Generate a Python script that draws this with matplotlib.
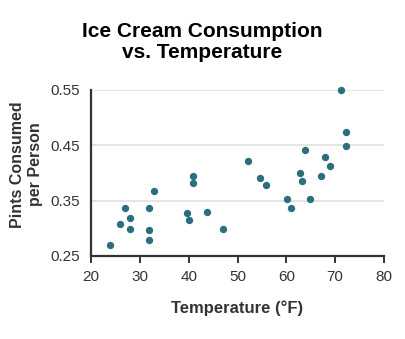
import matplotlib
matplotlib.use("Agg")
import matplotlib.pyplot as plt

# Temperature (F) and pints consumed per person
temperature = [
    23.8, 26.0, 26.9, 27.9, 27.9, 31.9, 31.9, 31.9, 32.9, 39.7,
    40.0, 40.9, 40.9, 43.8, 47.0, 52.1, 54.6, 55.9, 60.1, 61.0,
    62.9, 63.3, 63.9, 64.8, 67.1, 68.0, 68.9, 71.3, 72.2, 72.2,
]
pints = [
    0.270, 0.307, 0.336, 0.319, 0.298, 0.337, 0.296, 0.279, 0.368, 0.327,
    0.315, 0.394, 0.381, 0.329, 0.298, 0.421, 0.390, 0.379, 0.352, 0.336,
    0.399, 0.386, 0.441, 0.352, 0.394, 0.429, 0.412, 0.549, 0.474, 0.448,
]

x_ticks = [20, 30, 40, 50, 60, 70, 80]
y_ticks = [0.25, 0.35, 0.45, 0.55]

plt.rcParams["font.family"] = ["Liberation Sans", "DejaVu Sans"]

fig = plt.figure(figsize=(4.05, 3.39), dpi=100)
ax = fig.add_axes([0.225, 0.245, 0.723, 0.49])

ax.scatter(temperature, pints, s=28, color="#2B6E7E", zorder=3,
           linewidths=0, clip_on=False)

ax.set_xlim(20, 80)
ax.set_ylim(0.25, 0.55)
ax.set_xticks(x_ticks)
ax.set_yticks(y_ticks)
ax.set_yticklabels([f"{v:.2f}" for v in y_ticks])

ax.grid(axis="y", color="#E0E0E0", linewidth=1.2, zorder=0)
ax.set_axisbelow(True)

for side in ["top", "right"]:
    ax.spines[side].set_visible(False)
for side in ["left", "bottom"]:
    ax.spines[side].set_color("#333333")
    ax.spines[side].set_linewidth(1.6)

ax.tick_params(axis="x", length=5, width=1.4, color="#333333",
               labelsize=11, labelcolor="#333333", pad=5)
ax.tick_params(axis="y", length=0, labelsize=11, labelcolor="#333333", pad=8)

ax.set_xlabel("Temperature (\u00b0F)", fontsize=12, fontweight="bold",
              color="#333333", labelpad=12)
ax.set_ylabel("Pints Consumed\nper Person", fontsize=11.5, fontweight="bold",
              color="#333333", linespacing=1.2)
ax.yaxis.set_label_coords(-0.165, 0.55)

fig.text(0.5, 0.875, "Ice Cream Consumption\nvs. Temperature",
         ha="center", va="center", fontsize=15, fontweight="bold",
         linespacing=1.15)

fig.savefig("out.png", dpi=100)
